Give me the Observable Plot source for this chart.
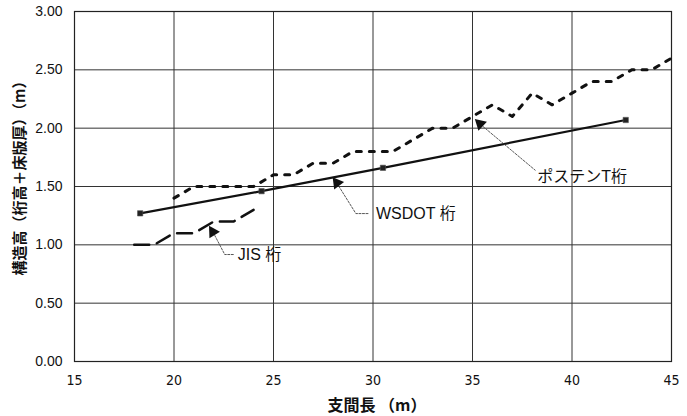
<!DOCTYPE html>
<html>
<head>
<meta charset="utf-8">
<script src="https://cdn.jsdelivr.net/npm/d3@7"></script>
<script src="https://cdn.jsdelivr.net/npm/@observablehq/plot@0.6"></script>
<style>
  html, body { margin: 0; padding: 0; background: #fff; }
  #chart svg { display: block; }
</style>
</head>
<body>
<div id="chart"></div>
<script>
// ---- data ----
const xTicks = [15, 20, 25, 30, 35, 40, 45];
const yTicks = [0, 0.5, 1.0, 1.5, 2.0, 2.5, 3.0];

const wsdotX = [18.3, 24.4, 30.5, 42.7];
const wsdotY = [1.27, 1.46, 1.66, 2.07];

const jisX = [18, 19, 20, 21, 22, 23, 24];
const jisY = [1.00, 1.00, 1.10, 1.10, 1.20, 1.20, 1.30];

const postenX = [20, 21, 22, 23, 24, 25, 26, 27, 28, 29, 30, 31, 32, 33, 34, 35, 36, 37, 38, 39, 40, 41, 42, 43, 44, 45];
const postenY = [1.40, 1.50, 1.50, 1.50, 1.50, 1.60, 1.60, 1.70, 1.70, 1.80, 1.80, 1.80, 1.90, 2.00, 2.00, 2.10, 2.20, 2.10, 2.30, 2.20, 2.30, 2.40, 2.40, 2.50, 2.50, 2.60];

// annotations
const labelNames = ["JIS 桁", "WSDOT 桁", "ポステンT桁"];
const labelX = [23.2, 30.15, 38.25];
const labelY = [0.91, 1.268, 1.585];
const arrowX = [21.95, 28.19, 35.38];
const arrowY = [1.111, 1.531, 2.037];
const arrowAngle = [-32, -37, -47];
const leaderKey = ["JIS", "JIS", "JIS", "WSDOT", "WSDOT", "WSDOT", "POSTEN", "POSTEN"];
const leaderX = [22.05, 22.55, 23.0, 28.29, 29.14, 29.75, 35.53, 38.15];
const leaderY = [1.08, 0.917, 0.917, 1.50, 1.268, 1.268, 2.014, 1.64];

const xLabel = "支間長 （m）";
const yLabel = "構造高（桁高＋床版厚）（m）";

// ---- tables ----
const wsdot = wsdotX.map((x, i) => ({x, y: wsdotY[i]}));
const jis = jisX.map((x, i) => ({x, y: jisY[i]}));
const posten = postenX.map((x, i) => ({x, y: postenY[i]}));
const arrows = arrowX.map((x, i) => ({x, y: arrowY[i], a: arrowAngle[i]}));
const labels = labelNames.map((t, i) => ({t, x: labelX[i], y: labelY[i]}));
const leaders = leaderX.map((x, i) => ({x, y: leaderY[i], k: leaderKey[i]}));

const latin = "'Liberation Sans', Arial, 'Noto Sans CJK JP', sans-serif";

const chart = Plot.plot({
  width: 687,
  height: 416,
  marginLeft: 74,
  marginRight: 16,
  marginTop: 11,
  marginBottom: 55,
  style: {fontFamily: latin, fontSize: "14px", background: "#fff", color: "#111"},
  x: {domain: [15, 45], ticks: xTicks, tickSize: 0, tickPadding: 14, label: null},
  y: {domain: [0, 3], ticks: yTicks, tickSize: 0, tickPadding: 12, tickFormat: d3.format(".2f"), label: null},
  marks: [
    Plot.ruleX(xTicks, {stroke: "#333", strokeWidth: 1}),
    Plot.ruleY(yTicks, {stroke: "#333", strokeWidth: 1}),
    Plot.frame({stroke: "#222", strokeWidth: 1.2}),
    Plot.axisX({ticks: xTicks, tickSize: 0, tickPadding: 14, fontSize: 14, fontFamily: "'Liberation Sans Narrow', 'DejaVu Sans Condensed', 'Liberation Sans', sans-serif", label: null}),
    Plot.axisY({ticks: yTicks, tickSize: 0, tickPadding: 12, fontSize: 14, tickFormat: d3.format(".2f"), label: null}),
    Plot.line(posten, {x: "x", y: "y", stroke: "#111", strokeWidth: 3, strokeDasharray: "5,8"}),
    Plot.line(jis, {x: "x", y: "y", stroke: "#111", strokeWidth: 2.5, strokeDasharray: "15,8"}),
    Plot.line(wsdot, {x: "x", y: "y", stroke: "#111", strokeWidth: 2.2}),
    Plot.dot(wsdot, {x: "x", y: "y", symbol: "square", r: 3, fill: "#222", stroke: "#555", strokeWidth: 0.6}),
    Plot.line(leaders, {x: "x", y: "y", z: "k", stroke: "#444", strokeWidth: 0.9, strokeDasharray: "2,1.5"}),
    Plot.dot(arrows, {x: "x", y: "y", symbol: "triangle", r: 4.6, rotate: "a", fill: "#111"}),
    Plot.text(labels, {x: "x", y: "y", text: "t", textAnchor: "start", fontSize: 16, fill: "#111"}),
    Plot.text([xLabel], {frameAnchor: "bottom", textAnchor: "middle", lineAnchor: "middle", dx: 4, dy: 44, text: d => d, fontSize: 16, fontWeight: "bold", fontFamily: "'Noto Sans CJK JP', sans-serif"}),
    Plot.text([yLabel], {frameAnchor: "left", textAnchor: "middle", lineAnchor: "middle", dx: -54, dy: -12, rotate: -90, text: d => d, fontSize: 15, fontWeight: "bold", fontFamily: "'Noto Sans CJK JP', sans-serif"})
  ]
});
document.getElementById("chart").appendChild(chart);
</script>
</body>
</html>
